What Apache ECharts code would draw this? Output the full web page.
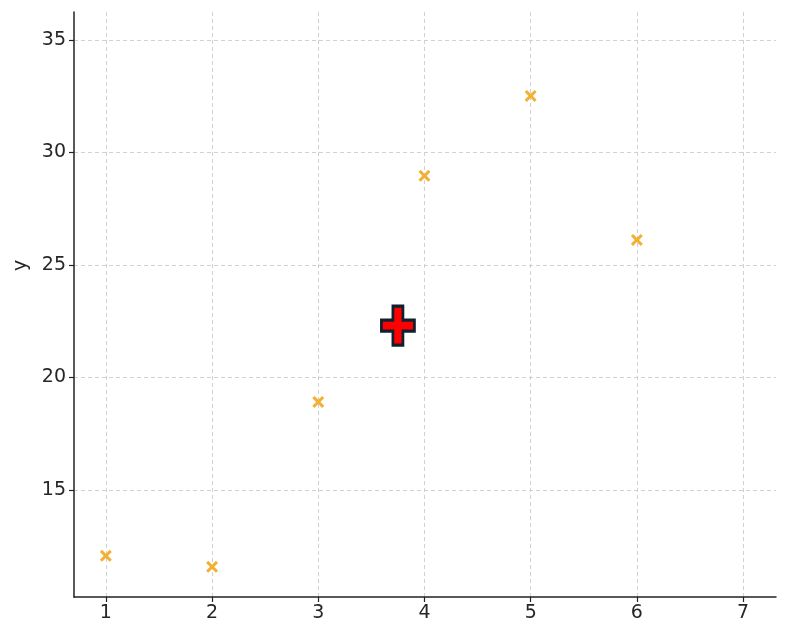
<!DOCTYPE html>
<html><head><meta charset="utf-8">
<script src="https://cdn.jsdelivr.net/npm/echarts@6/dist/echarts.min.js"></script>
<style>html,body{margin:0;padding:0;background:#fff}#c{width:800px;height:635px}</style>
</head><body><div id="c"></div>
<script>
const xValues = [1, 2, 3, 4, 5, 6];
const yValues = [12.07, 11.58, 18.91, 28.96, 32.51, 26.11];
const centroid = [3.75, 22.3];
const xTicks = [1, 2, 3, 4, 5, 6, 7];
const yTicks = [15, 20, 25, 30, 35];

const chart = echarts.init(document.getElementById('c'));
const font = 'DejaVu Sans';
const xPath = 'path://M0,1.8 L1.8,0 L5,3.2 L8.2,0 L10,1.8 L6.8,5 L10,8.2 L8.2,10 L5,6.8 L1.8,10 L0,8.2 L3.2,5 Z';
const plusPath = 'path://M11.5,0 L21.5,0 L21.5,14 L33,14 L33,25 L21.5,25 L21.5,39 L11.5,39 L11.5,25 L0,25 L0,14 L11.5,14 Z';

const axisCommon = {
  type: 'value',
  axisLine: { show: true, lineStyle: { color: '#222', width: 1.5 } },
  axisTick: { show: true, length: 5, lineStyle: { color: '#222', width: 1.2 } },
  axisLabel: { color: '#262626', fontFamily: font, fontSize: 19 },
  splitLine: { show: true, lineStyle: { color: '#cccccc', type: [4, 3], width: 0.9 } }
};

chart.setOption({
  animation: false,
  grid: { left: 74, right: 24, top: 12, bottom: 38, containLabel: false },
  xAxis: Object.assign({}, axisCommon, {
    min: 0.7, max: 7.31,
    axisTick: Object.assign({}, axisCommon.axisTick, { customValues: xTicks }),
    axisLabel: Object.assign({}, axisCommon.axisLabel, { customValues: xTicks, margin: 7 })
  }),
  yAxis: Object.assign({}, axisCommon, {
    min: 10.24, max: 36.24,
    axisTick: Object.assign({}, axisCommon.axisTick, { customValues: yTicks }),
    axisLabel: Object.assign({}, axisCommon.axisLabel, { customValues: yTicks, margin: 8 })
  }),
  graphic: [{
    type: 'text', x: 12, y: 271, rotation: Math.PI / 2,
    style: { text: 'y', font: '19px "DejaVu Sans"', fill: '#262626', textVerticalAlign: 'top' }
  }],
  series: [{
    type: 'scatter',
    data: xValues.map((x, i) => [x, yValues[i]]),
    symbol: xPath, symbolSize: 12,
    itemStyle: { color: '#F2B134', opacity: 1 }
  }, {
    type: 'scatter',
    data: [centroid],
    symbol: plusPath, symbolSize: [33, 39],
    itemStyle: { color: '#FF0000', borderColor: '#10202F', borderWidth: 3, opacity: 1 },
    z: 5
  }]
});
</script></body></html>
